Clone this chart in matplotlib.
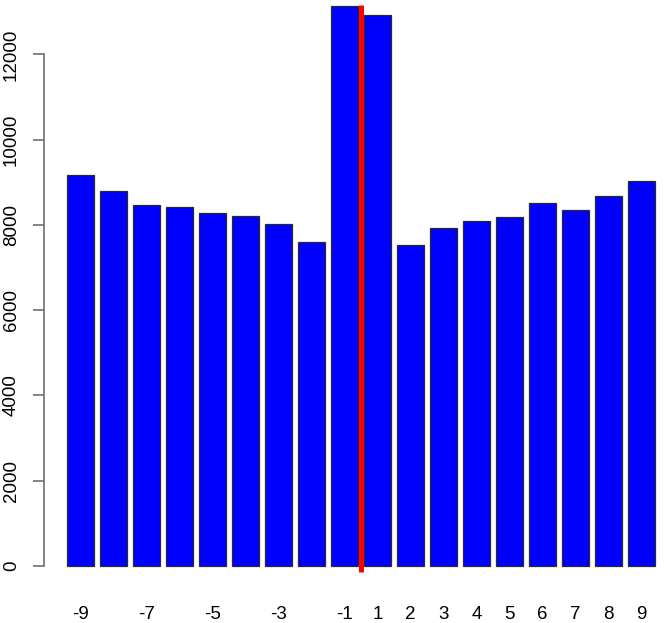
import numpy as np
import matplotlib
matplotlib.use('Agg')
import matplotlib.pyplot as plt

plt.rcParams['font.family'] = ['Liberation Sans', 'DejaVu Sans']

# offsets and counts
offsets = [-9, -8, -7, -6, -5, -4, -3, -2, -1, 1, 2, 3, 4, 5, 6, 7, 8, 9]
counts = [9163, 8802, 8466, 8419, 8279, 8208, 8014, 7591, 13140,
          12929, 7535, 7934, 8084, 8178, 8506, 8349, 8684, 9036]
shown_labels = [-9, -7, -5, -3, -1, 1, 2, 3, 4, 5, 6, 7, 8, 9]  # R drops the ones that overlap
y_ticks = [0, 2000, 4000, 6000, 8000, 10000, 12000]

W, H = 664, 623
fig = plt.figure(figsize=(W / 100, H / 100), dpi=100)

# R barplot geometry: width 1, space 0.2, axes padded 4% each side
xs = 0.7 + 1.2 * np.arange(len(counts))
xlo, xhi = 0.2, xs[-1] + 0.5
xpad = (xhi - xlo) * 0.04
ypad = max(counts) * 0.04
xlim = (xlo - xpad, xhi + xpad)
ylim = (-ypad, max(counts) + ypad)

# plot region in pixels (partly cut off by the image border, like the original)
left_px, right_px = 43.5, 678.5
bottom_px, top_px = 588.4, -16.7
ax = fig.add_axes([left_px / W, (H - bottom_px) / H,
                   (right_px - left_px) / W, (bottom_px - top_px) / H])
ax.set_xlim(*xlim)
ax.set_ylim(*ylim)

ax.bar(xs, counts, width=1.0, color='#0000ff', edgecolor='#2a2a2a', linewidth=0.9, zorder=2)

# split between -1 and +1
split_x = (xs[8] + xs[9]) / 2
ax.vlines(split_x, -140, max(counts) + 20, color='#ff0000', linewidth=3.6, zorder=3)

for s in ['top', 'right', 'bottom']:
    ax.spines[s].set_visible(False)
ax.spines['left'].set_bounds(0, 12000)
ax.spines['left'].set_color('#6e6e6e')
ax.spines['left'].set_linewidth(1.2)

ax.set_yticks(y_ticks)
ax.set_yticklabels([str(t) for t in y_ticks], rotation=90, va='center', fontsize=13.5)
ax.tick_params(axis='y', length=8, width=1.2, color='#6e6e6e', pad=9)

ax.set_xticks([xs[offsets.index(v)] for v in shown_labels])
ax.set_xticklabels([str(v) for v in shown_labels], fontsize=13.5)
ax.tick_params(axis='x', length=0, pad=13)

fig.savefig('out.png', dpi=100)
